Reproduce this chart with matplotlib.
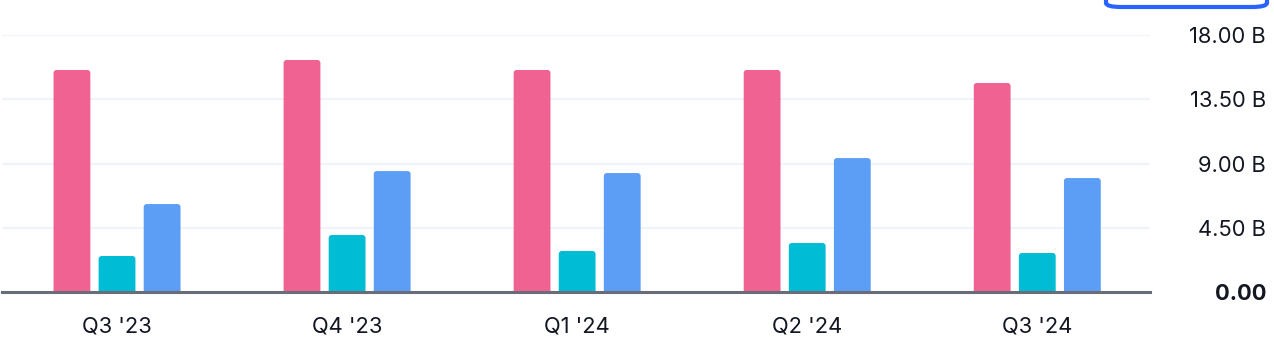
import matplotlib.pyplot as plt
from matplotlib.patches import FancyBboxPatch
import numpy as np

# Datos (miles de millones)
trimestres = ["Q3 '23", "Q4 '23", "Q1 '24", "Q2 '24", "Q3 '24"]
serie_rosa = [15.55, 16.25, 15.55, 15.55, 14.64]
serie_turquesa = [2.52, 3.99, 2.87, 3.43, 2.73]
serie_azul = [6.16, 8.47, 8.33, 9.38, 7.98]
ticks_y = [0, 4.5, 9, 13.5, 18]
etiquetas_y = ["0.00", "4.50 B", "9.00 B", "13.50 B", "18.00 B"]

colores = ["#F06292", "#00BCD4", "#5C9DF6"]

plt.rcParams['font.family'] = ['Inter', 'DejaVu Sans']

W, H = 1274, 352
fig = plt.figure(figsize=(W / 100, H / 100), dpi=100)
ax = fig.add_axes([2 / W, (H - 292) / H, (1150 - 2) / W, (292 - 35) / H])

x = np.arange(len(trimestres))
ancho = 0.16
desp = 0.196
rx = 3 / 230
ry = 3 / 14.28
for i, serie in enumerate([serie_rosa, serie_turquesa, serie_azul]):
    barras = ax.bar(x + (i - 1) * desp, serie, ancho, color=colores[i])
    for b in barras:
        b.set_visible(False)
        p = FancyBboxPatch((b.get_x(), -0.5), b.get_width(), b.get_height() + 0.5,
                           boxstyle="round,pad=0,rounding_size=%f" % rx,
                           mutation_aspect=ry / rx, facecolor=colores[i],
                           edgecolor='none', zorder=2)
        ax.add_patch(p)

ax.set_xlim(-0.5, 4.49)
ax.set_ylim(0, 18)
ax.set_yticks(ticks_y)
ax.set_yticklabels(etiquetas_y)
ax.set_xticks(x)
ax.set_xticklabels(trimestres)

ax.grid(axis='y', color='#F0F3FA', linewidth=1.5, zorder=0)
ax.set_axisbelow(True)
for lado in ['top', 'right', 'left']:
    ax.spines[lado].set_visible(False)
ax.spines['bottom'].set_color('#6A6D78')
ax.spines['bottom'].set_linewidth(2.2)
ax.spines['bottom'].set_zorder(3)

ax.yaxis.tick_right()
ax.tick_params(axis='y', length=0, pad=0, labelsize=15.8, labelcolor='#131722')
ax.tick_params(axis='x', length=0, pad=18, labelsize=15.8, labelcolor='#131722')
for lbl in ax.get_yticklabels():
    lbl.set_horizontalalignment('right')
    lbl.set_x(1 + (1266 - 1150) / (1150 - 2))
ax.get_yticklabels()[0].set_fontweight('bold')

# botón recortado arriba a la derecha
boton = FancyBboxPatch((1106 / W, (H - 7) / H), 161 / W, 40 / H,
                       boxstyle="round,pad=0,rounding_size=0.012",
                       transform=fig.transFigure, facecolor='white',
                       edgecolor='#2962FF', linewidth=3, clip_on=False)
fig.patches.append(boton)

fig.savefig('out.png', dpi=100)
